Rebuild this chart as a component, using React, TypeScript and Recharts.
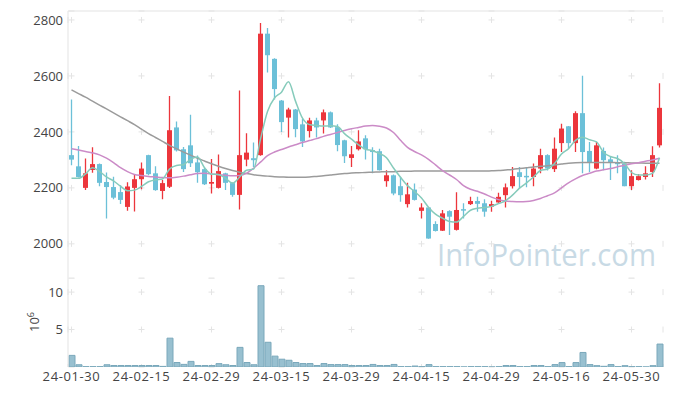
import React from 'react';
import {
  ComposedChart, Bar, Line, XAxis, YAxis, CartesianGrid, ReferenceLine,
} from 'recharts';

const dates = [
  '24-01-30','24-01-31','24-02-01','24-02-02','24-02-05','24-02-06','24-02-07','24-02-08','24-02-13','24-02-14',
  '24-02-15','24-02-16','24-02-19','24-02-20','24-02-21','24-02-22','24-02-23','24-02-26','24-02-27','24-02-28',
  '24-02-29','24-03-04','24-03-05','24-03-06','24-03-07','24-03-08','24-03-11','24-03-12','24-03-13','24-03-14',
  '24-03-15','24-03-18','24-03-19','24-03-20','24-03-21','24-03-22','24-03-25','24-03-26','24-03-27','24-03-28',
  '24-03-29','24-04-01','24-04-02','24-04-03','24-04-04','24-04-05','24-04-08','24-04-09','24-04-11','24-04-12',
  '24-04-15','24-04-16','24-04-17','24-04-18','24-04-19','24-04-22','24-04-23','24-04-24','24-04-25','24-04-26',
  '24-04-29','24-04-30','24-05-02','24-05-03','24-05-07','24-05-08','24-05-09','24-05-10','24-05-13','24-05-14',
  '24-05-16','24-05-17','24-05-20','24-05-21','24-05-22','24-05-23','24-05-24','24-05-27','24-05-28','24-05-29',
  '24-05-30','24-05-31','24-06-03','24-06-04','24-06-05',
];

const opens = [
  2317,2277,2200,2264,2285,2221,2203,2185,2132,2200,
  2231,2317,2252,2189,2204,2416,2338,2352,2291,2267,
  2215,2200,2252,2217,2175,2301,2306,2317,2751,2661,
  2512,2451,2480,2427,2403,2441,2441,2470,2417,2370,
  2307,2338,2377,2335,2331,2224,2245,2206,2142,2194,
  2118,2130,2071,2047,2117,2050,2124,2142,2153,2145,
  2133,2148,2174,2206,2256,2243,2239,2269,2317,2267,
  2360,2420,2360,2467,2332,2269,2332,2302,2290,2287,
  2206,2228,2239,2257,2352,
];
const highs = [
  2516,2350,2305,2345,2287,2255,2240,2209,2220,2249,
  2291,2318,2277,2228,2528,2437,2346,2461,2316,2273,
  2303,2319,2254,2219,2548,2395,2362,2789,2771,2663,
  2514,2486,2482,2446,2451,2451,2480,2473,2427,2372,
  2350,2406,2388,2345,2340,2263,2248,2240,2218,2216,
  2145,2131,2081,2121,2120,2184,2145,2168,2168,2159,
  2154,2183,2216,2275,2275,2275,2287,2340,2320,2380,
  2429,2421,2474,2601,2364,2364,2344,2311,2317,2293,
  2263,2250,2277,2349,2574,
];
const lows = [
  2281,2237,2192,2254,2206,2091,2159,2142,2118,2116,
  2195,2245,2190,2159,2200,2330,2257,2275,2218,2210,
  2180,2198,2192,2168,2123,2277,2275,2315,2612,2516,
  2400,2380,2381,2346,2380,2380,2394,2414,2331,2289,
  2275,2334,2301,2252,2262,2204,2174,2150,2130,2155,
  2091,2018,2044,2046,2032,2048,2091,2139,2115,2097,
  2115,2146,2130,2198,2198,2202,2206,2252,2262,2257,
  2328,2340,2328,2252,2257,2267,2263,2228,2252,2206,
  2192,2226,2230,2239,2344,
];
const closes = [
  2301,2239,2252,2285,2218,2203,2165,2157,2205,2231,
  2269,2249,2192,2217,2406,2334,2267,2288,2256,2213,
  2221,2260,2218,2175,2317,2326,2299,2751,2674,2553,
  2435,2480,2410,2366,2441,2416,2470,2416,2353,2313,
  2320,2366,2338,2328,2263,2245,2180,2174,2177,2157,
  2130,2019,2046,2109,2097,2121,2119,2153,2143,2115,
  2142,2168,2202,2242,2239,2241,2269,2317,2269,2340,
  2412,2360,2467,2328,2291,2352,2299,2291,2287,2206,
  2242,2242,2252,2317,2486,
];
// volume in millions of shares
const volumes = [
  1.55,0.3,0.05,0.05,0.05,0.3,0.2,0.2,0.2,0.2,
  0.2,0.2,0.2,0.08,3.85,0.6,0.35,0.75,0.2,0.2,
  0.2,0.45,0.3,0.2,2.62,0.6,0.3,10.85,3.3,1.45,
  1.04,0.9,0.6,0.46,0.46,0.2,0.46,0.32,0.32,0.32,
  0.2,0.2,0.2,0.34,0.2,0.2,0.34,0.05,0.05,0.13,
  0.05,0.32,0.05,0.05,0.05,0.05,0.01,0.05,0.05,0.05,
  0.01,0.05,0.2,0.2,0.05,0.05,0.2,0.2,0.05,0.32,
  0.59,0.05,0.59,1.94,0.32,0.18,0.09,0.32,0.05,0.18,
  0.05,0.05,0.01,0.18,3.06,
];
const ma5 = [
  2234,2234,2250,2272,2259,2239,2225,2206,2190,2192,
  2205,2222,2229,2232,2267,2280,2283,2302,2310,2272,
  2249,2248,2234,2217,2238,2263,2267,2374,2473,2521,
  2542,2579,2510,2449,2426,2423,2421,2422,2419,2394,
  2374,2354,2338,2333,2323,2308,2271,2238,2208,2187,
  2164,2131,2106,2092,2080,2078,2098,2120,2127,2130,
  2134,2144,2154,2174,2199,2218,2239,2262,2267,2287,
  2321,2340,2370,2381,2372,2364,2327,2312,2305,2287,
  2255,2246,2246,2252,2308,
];
const ma20 = [
  2340,2335,2330,2325,2318,2306,2290,2272,2258,2248,
  2244,2241,2239,2237,2236,2238,2242,2247,2251,2252,
  2250,2247,2245,2243,2244,2252,2270,2292,2315,2328,
  2337,2346,2354,2362,2369,2376,2384,2391,2398,2405,
  2411,2416,2421,2423,2420,2414,2398,2370,2345,2330,
  2318,2302,2282,2262,2246,2230,2208,2195,2188,2178,
  2167,2158,2153,2151,2150,2151,2155,2162,2172,2182,
  2200,2218,2232,2244,2252,2260,2265,2269,2275,2281,
  2286,2290,2295,2300,2306,
];
const ma60 = [
  2550,2537,2524,2510,2496,2482,2468,2454,2440,2426,
  2410,2394,2380,2366,2352,2340,2328,2317,2306,2296,
  2286,2277,2269,2262,2256,2251,2247,2244,2242,2240,
  2239,2238,2238,2238,2239,2241,2243,2246,2249,2251,
  2253,2254,2255,2256,2257,2258,2258,2259,2259,2260,
  2260,2260,2260,2260,2260,2260,2260,2260,2260,2260,
  2261,2262,2264,2266,2269,2272,2275,2277,2279,2282,
  2285,2288,2290,2291,2291,2291,2291,2291,2290,2290,
  2289,2289,2288,2288,2288,
];

const priceTicks = [2000, 2200, 2400, 2600, 2800];
const volumeTicks = [5, 10];

const data = dates.map((d, i) => ({
  date: d,
  open: opens[i],
  high: highs[i],
  low: lows[i],
  close: closes[i],
  range: [lows[i], highs[i]],
  vol: volumes[i],
  ma5: ma5[i],
  ma20: ma20[i],
  ma60: ma60[i],
}));

const RED = '#ec363c';
const BLUE = '#6cc0d8';
const GRID = '#e4e4e4';
const FRAME = '#e3e3e3';
const FONT = "'Open Sans', sans-serif";
const tickStyle = { fill: '#444', fontSize: 13, fontFamily: FONT };
const xTickStyle = { fill: '#444', fontSize: 13, fontFamily: FONT, letterSpacing: 0.6 };

const W = 673;
const LEFT = 68;
const RIGHT_M = 10;
const PRICE_TOP = 11;
const PRICE_H = 279;
const PRICE_BOTTOM_M = 1;
const PRICE_MIN = 1878;
const PRICE_MAX = 2832;
const VOL_TOP = 278;
const VOL_H = 118;
const VOL_AXIS_H = 29;
const VOL_MAX = 11.88;

const plotW = W - LEFT - RIGHT_M;
const tickGapX = (plotW / dates.length) * 10;
const pricePlotH = PRICE_H - PRICE_TOP - PRICE_BOTTOM_M;
const priceStep = (200 / (PRICE_MAX - PRICE_MIN)) * pricePlotH;
const priceFirst = ((PRICE_MAX - 2800) / (PRICE_MAX - PRICE_MIN)) * pricePlotH;
const volPlotH = VOL_H - VOL_AXIS_H;
const volStep = (5 / VOL_MAX) * volPlotH;
const volFirst = ((VOL_MAX - 10) / VOL_MAX) * volPlotH;
const CROSS = 6;

const hLine = (p: any) => (
  <line
    key={p.key}
    x1={p.x1}
    y1={p.y1}
    x2={p.x2}
    y2={p.y2}
    stroke={GRID}
    strokeWidth={1}
    strokeDasharray={`${CROSS} ${tickGapX - CROSS}`}
    strokeDashoffset={-(plotW / dates.length / 2 - CROSS / 2)}
  />
);

const vLineFactory = (first: number, step: number) => (p: any) => (
  <line
    key={p.key}
    x1={p.x1}
    y1={p.y1}
    x2={p.x2}
    y2={p.y2}
    stroke={GRID}
    strokeWidth={1}
    strokeDasharray={`${CROSS} ${step - CROSS}`}
    strokeDashoffset={step - (first - CROSS / 2)}
  />
);

const Candle = (props: any) => {
  const { x, y, width, height, payload } = props;
  if (x == null || y == null || !payload) return <g />;
  const { open, close, high, low } = payload;
  const yTop = Math.min(y, y + height);
  const yBot = Math.max(y, y + height);
  const ratio = high === low ? 0 : (yBot - yTop) / (high - low);
  const yOpen = yTop + (high - open) * ratio;
  const yClose = yTop + (high - close) * ratio;
  const bTop = Math.min(yOpen, yClose);
  const bH = Math.max(Math.abs(yOpen - yClose), 1.5);
  const color = close >= open ? RED : BLUE;
  const cx = x + width / 2;
  return (
    <g>
      <line x1={cx} x2={cx} y1={yTop} y2={yBot} stroke={color} strokeWidth={1.3} />
      <rect x={x} y={bTop} width={width} height={bH} fill={color} />
    </g>
  );
};

const EmptyTick = () => <g />;

export default function App() {
  return (
    <div style={{ position: 'absolute', left: 0, top: 0, width: W, height: 396, background: '#fff', fontFamily: FONT }}>
      <svg width={W} height={396} style={{ position: 'absolute', left: 0, top: 0 }}>
        <text
          x={437}
          y={266}
          fontFamily={FONT}
          fontSize={31}
          fill="#c8dae5"
          textLength={219}
          lengthAdjust="spacingAndGlyphs"
        >
          InfoPointer.com
        </text>
        <text transform="translate(38.5, 332) rotate(-90)" fontFamily={FONT} fontSize={13} fill="#444">
          10<tspan dy={-5} fontSize={9}>6</tspan>
        </text>
      </svg>

      <div style={{ position: 'absolute', left: 0, top: 0 }}>
        <ComposedChart
          width={W}
          height={PRICE_H}
          data={data}
          margin={{ top: PRICE_TOP, right: RIGHT_M, bottom: PRICE_BOTTOM_M, left: 0 }}
        >
          <CartesianGrid
            horizontal={hLine}
            vertical={vLineFactory(priceFirst, priceStep)}
          />
          <XAxis
            dataKey="date"
            interval={9}
            height={0}
            tick={EmptyTick}
            tickLine={false}
            axisLine={{ stroke: FRAME }}
          />
          <YAxis
            domain={[PRICE_MIN, PRICE_MAX]}
            ticks={priceTicks}
            allowDataOverflow
            width={LEFT}
            tickSize={0}
            tickMargin={5}
            tick={tickStyle}
            axisLine={{ stroke: FRAME }}
            tickLine={false}
            interval={0}
          />
          <YAxis
            yAxisId="r"
            orientation="right"
            domain={[0, 1]}
            width={0}
            tick={false}
            tickLine={false}
            axisLine={{ stroke: FRAME }}
          />
          <ReferenceLine y={PRICE_MAX} stroke={FRAME} ifOverflow="extendDomain" />
          <Bar dataKey="range" barSize={5} shape={(p: any) => <Candle {...p} />} isAnimationActive={false} />
          <Line type="monotone" dataKey="ma60" stroke="#9b9b9b" strokeWidth={1.5} dot={false} isAnimationActive={false} />
          <Line type="monotone" dataKey="ma20" stroke="#cb8bc7" strokeWidth={1.5} dot={false} isAnimationActive={false} />
          <Line type="monotone" dataKey="ma5" stroke="#86cbbb" strokeWidth={1.5} dot={false} isAnimationActive={false} />
        </ComposedChart>
      </div>

      <div style={{ position: 'absolute', left: 0, top: VOL_TOP }}>
        <ComposedChart
          width={W}
          height={VOL_H}
          data={data}
          margin={{ top: 0, right: RIGHT_M, bottom: 0, left: 0 }}
          barCategoryGap={0}
        >
          <CartesianGrid
            horizontal={hLine}
            vertical={vLineFactory(volFirst, volStep)}
          />
          <XAxis
            dataKey="date"
            interval={9}
            height={VOL_AXIS_H}
            tickSize={0}
            tickMargin={5}
            tick={xTickStyle}
            tickLine={false}
            axisLine={false}
          />
          <YAxis
            domain={[0, VOL_MAX]}
            ticks={volumeTicks}
            allowDataOverflow
            width={LEFT}
            tickSize={0}
            tickMargin={5}
            tick={tickStyle}
            axisLine={{ stroke: FRAME }}
            tickLine={false}
            interval={0}
          />
          <YAxis
            yAxisId="r"
            orientation="right"
            domain={[0, 1]}
            width={0}
            tick={false}
            tickLine={false}
            axisLine={{ stroke: FRAME }}
          />
          <Bar dataKey="vol" barSize={6} fill="#98c0d0" stroke="#7aa8bb" strokeWidth={1} isAnimationActive={false} />
        </ComposedChart>
      </div>
    </div>
  );
}
